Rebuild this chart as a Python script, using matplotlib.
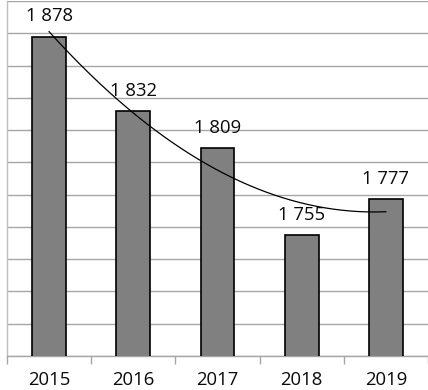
import numpy as np
import matplotlib
matplotlib.use("Agg")
import matplotlib.pyplot as plt

years = ["2015", "2016", "2017", "2018", "2019"]
values = [1878, 1832, 1809, 1755, 1777]
labels = ["1 878", "1 832", "1 809", "1 755", "1 777"]

plt.rcParams['font.family'] = ['Open Sans', 'DejaVu Sans']

fig = plt.figure(figsize=(4.28, 3.90), dpi=100)
ax = fig.add_axes([7/428, 34/390, 421/428, 355/390])

x = np.arange(len(years))
ax.bar(x, values, width=0.4, color="#808080", edgecolor="black", linewidth=1.2, zorder=3)

coef = np.polyfit(x, values, 2)
xs = np.linspace(x[0], x[-1], 200)
ax.plot(xs, np.polyval(coef, xs), color="black", linewidth=0.9, zorder=4)

for xi, v, lab in zip(x, values, labels):
    ax.annotate(lab, (xi, v), xytext=(0, 8), textcoords="offset points",
                ha="center", va="bottom", fontsize=13.3, color="#0a0a0a", zorder=5)

ax.set_xlim(-0.5, 4.5)
ax.set_ylim(1680, 1900)
ax.set_yticks(np.arange(1680, 1901, 20))
ax.yaxis.grid(True, color="#a6a6a6", linewidth=1.0, zorder=0)
ax.tick_params(axis="y", left=False, labelleft=False)

ax.set_xticks(x)
ax.set_xticklabels(years, fontsize=13.3, color="#0a0a0a")
ax.set_xticks(np.arange(-0.5, 4.6, 1.0), minor=True)
ax.tick_params(axis="x", which="major", length=0, pad=11)
ax.tick_params(axis="x", which="minor", length=6, color="#a6a6a6", width=1)

for s in ["top", "right"]:
    ax.spines[s].set_visible(False)
ax.spines["left"].set_color("#bfbfbf")
ax.spines["bottom"].set_color("#a6a6a6")
ax.spines["left"].set_linewidth(1.0)
ax.spines["bottom"].set_linewidth(1.0)

fig.savefig("out.png", dpi=100)
